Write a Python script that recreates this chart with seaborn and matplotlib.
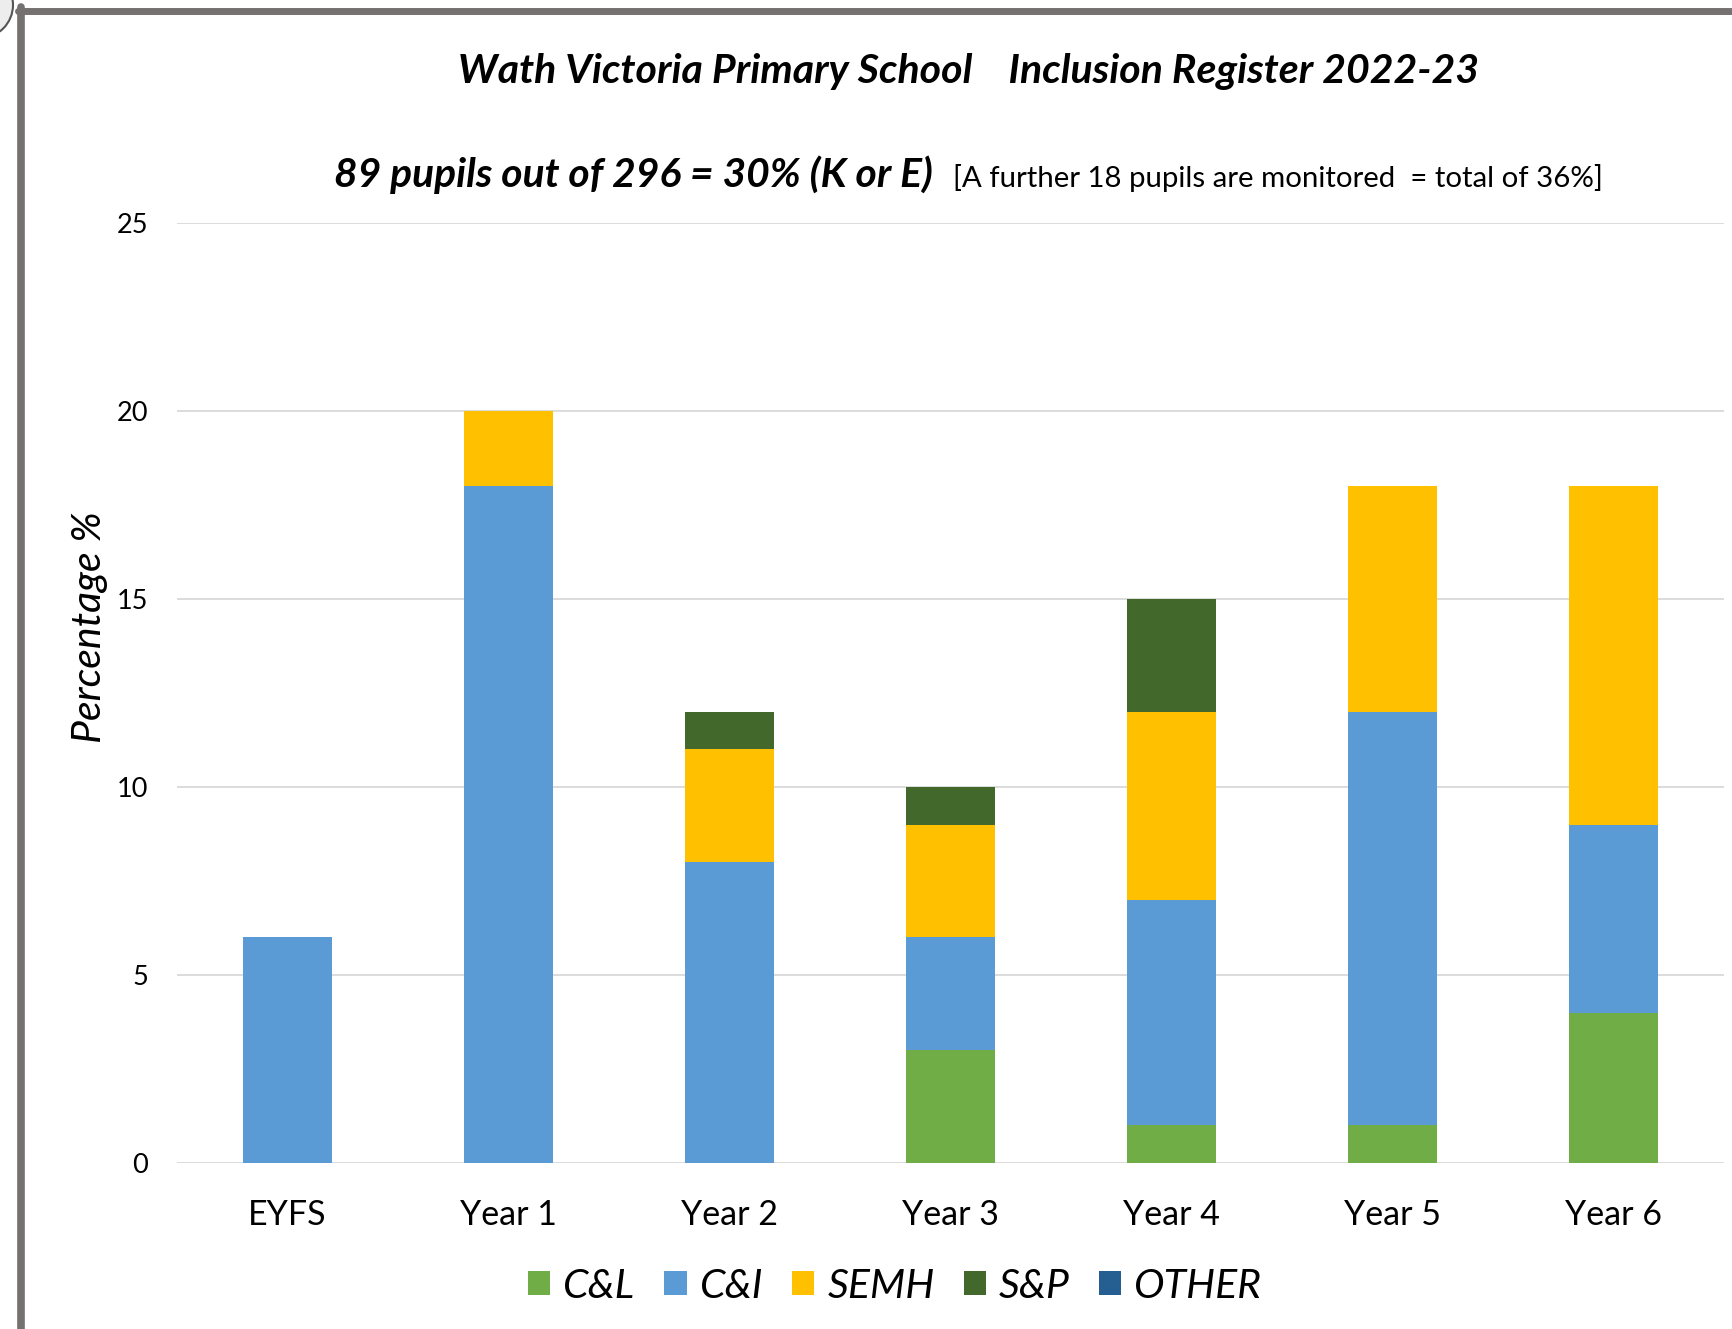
import matplotlib
matplotlib.use("Agg")
import matplotlib.pyplot as plt
import seaborn as sns
import pandas as pd
import numpy as np
from matplotlib.patches import Patch, Circle
from matplotlib.lines import Line2D

years = ["EYFS", "Year 1", "Year 2", "Year 3", "Year 4", "Year 5", "Year 6"]
series_names = ["C&L", "C&I", "SEMH", "S&P", "OTHER"]
cl = [0, 0, 0, 3, 1, 1, 4]
ci = [6, 18, 8, 3, 6, 11, 5]
semh = [0, 2, 3, 3, 5, 6, 9]
sp = [0, 0, 1, 1, 3, 0, 0]
other = [0, 0, 0, 0, 0, 0, 0]
colors = ["#70AD47", "#5B9BD5", "#FFC000", "#43682B", "#255E91"]

series = [cl, ci, semh, sp, other]
df = pd.DataFrame({"year": years})
cum = np.zeros(len(years))
for name, vals in zip(series_names, series):
    cum = cum + np.array(vals, dtype=float)
    df[name] = cum.copy()

sns.set_theme(style="white")
plt.rcParams["font.family"] = ["Lato", "DejaVu Sans"]
plt.rcParams["text.color"] = "black"

fig = plt.figure(figsize=(17.32, 13.29), dpi=100)
ax = fig.add_axes([177/1732, 1-1163/1329, (1724-177)/1732, (1163-223)/1329])

# draw cumulative bars from top layer down so lower layers overlay
for name, col in reversed(list(zip(series_names, colors))):
    sns.barplot(data=df, x="year", y=name, color=col, width=0.4,
                saturation=1, ax=ax, order=years, linewidth=0)

ax.set_ylim(0, 25)
ax.set_xlim(-0.5, 6.5)
ax.set_yticks([0, 5, 10, 15, 20, 25])
ax.yaxis.grid(True, color="#D9D9D9", linewidth=1.3)
ax.set_axisbelow(True)
for s in ax.spines.values():
    s.set_visible(False)
ax.set_xlabel("")
ax.set_ylabel("")
ax.tick_params(axis="y", length=0, pad=21, labelsize=19.5, labelcolor="#000000")
ax.tick_params(axis="x", length=0, pad=26, labelsize=24.5, labelcolor="#000000")

fig.text(969/1732, 1-83/1329, "Wath Victoria Primary School    Inclusion Register 2022-23",
         ha="center", va="baseline", fontsize=29.5, fontweight="bold", style="italic", color="black")
fig.text(933/1732, 1-187/1329, "89 pupils out of 296 = 30% (K or E)",
         ha="right", va="baseline", fontsize=29.3, fontweight="bold", style="italic", color="black")
fig.text(953/1732, 1-187/1329, "[A further 18 pupils are monitored  = total of 36%]",
         ha="left", va="baseline", fontsize=21.2, color="black")
fig.text(89/1732, 1-627/1329, "Percentage %", rotation=90, ha="center", va="center",
         fontsize=29.5, style="italic", color="black")

handles = [Patch(facecolor=c, edgecolor="none") for c in colors]
fig.legend(handles, series_names, loc="center", bbox_to_anchor=(895/1732, 1-1286/1329),
           ncol=5, frameon=False, prop={"size": 29.5, "style": "italic"},
           handlelength=0.55, handleheight=0.55, handletextpad=0.32, columnspacing=0.7)

# screenshot frame
fig.add_artist(Line2D([18/1732, 1], [1-10.5/1329, 1-10.5/1329], transform=fig.transFigure,
                      color="#757171", linewidth=5))
fig.add_artist(Line2D([21/1732, 21/1732], [0, 1-7/1329], transform=fig.transFigure,
                      color="#757171", linewidth=5.5))
circ = Circle((-20, 1329-5), 33, transform=None, facecolor="#EDEDED",
              edgecolor="#555555", linewidth=1.5)
fig.add_artist(circ)

fig.savefig("out.png", dpi=100, facecolor="white")
